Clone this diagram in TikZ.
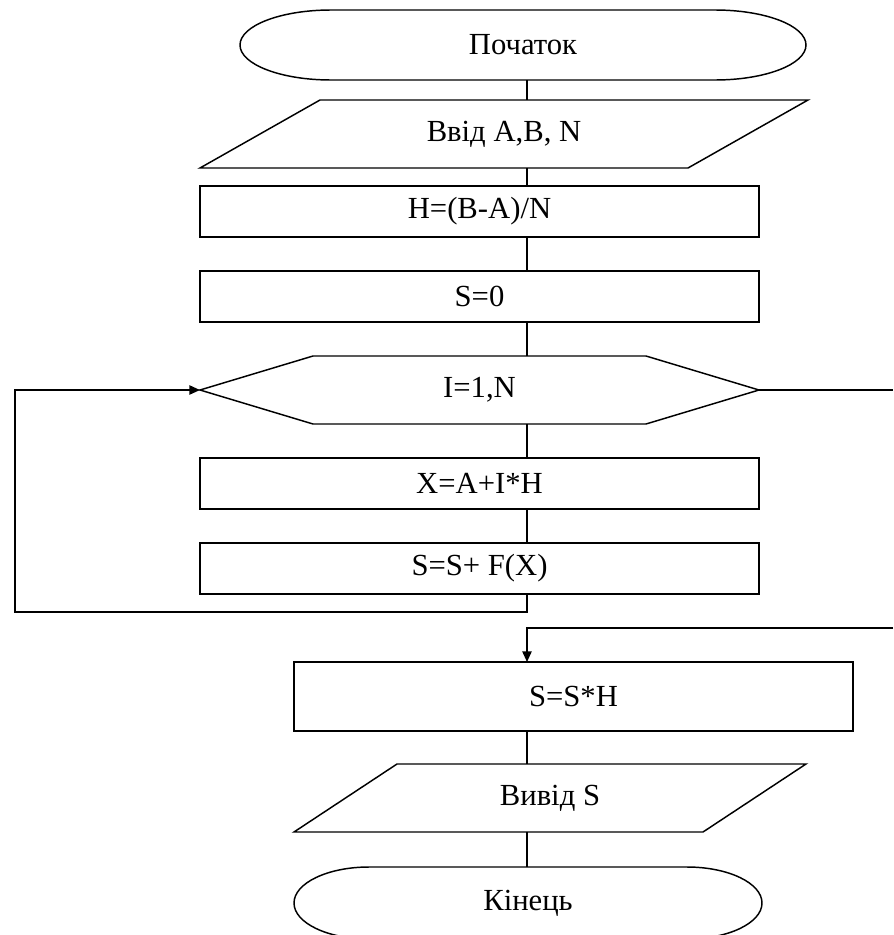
\documentclass[tikz,border=0pt]{standalone}
\usepackage{fontspec}
\setmainfont{Liberation Serif}
\usetikzlibrary{arrows.meta}

\begin{document}
\begin{tikzpicture}[x=0.75pt, y=-0.75pt, line width=1.1pt,
    every node/.style={font=\fontsize{23pt}{27pt}\selectfont, inner sep=0pt, outer sep=0pt},
    blk/.style={draw, minimum width=419.25pt, minimum height=38.25pt},
    arr/.style={-{Triangle[length=8pt, width=7pt]}}]
    \useasboundingbox (0,0) rectangle (893,935);
    \coordinate (axis) at (527,0);

    % Draw the start terminal
    \node[minimum width=424.5pt, minimum height=52.5pt] (start) at (523,45) {Початок};
    \draw ([xshift=68.25pt]start.north west) -- ([xshift=-68.25pt]start.north east)
        arc[start angle=90, end angle=-90, x radius=68.25pt, y radius=26.25pt]
        -- ([xshift=68.25pt]start.south west)
        arc[start angle=270, end angle=90, x radius=68.25pt, y radius=26.25pt] -- cycle;

    % Draw the input
    \node[minimum width=456pt, minimum height=51pt] (inp) at (504,134) {Ввід A,B, N};
    \draw ([xshift=90pt]inp.north west) -- (inp.north east)
        -- ([xshift=-90pt]inp.south east) -- (inp.south west) -- cycle;

    % Draw the boxes before the loop
    \node[blk] (h) at (479.5,211.5) {H=(B-A)/N};
    \node[blk] (s0) at (479.5,296.5) {S=0};

    % Draw the loop header
    \node[minimum width=419.25pt, minimum height=51pt] (loop) at (479.5,390) {I=1,N};
    \draw (loop.west) -- ([xshift=84.75pt]loop.north west) -- ([xshift=-84.75pt]loop.north east)
        -- (loop.east) -- ([xshift=-84.75pt]loop.south east) -- ([xshift=84.75pt]loop.south west) -- cycle;

    % Draw the loop body
    \node[blk] (xi) at (479.5,483.5) {X=A+I*H};
    \node[blk] (sf) at (479.5,568.5) {S=S+ F(X)};

    % Draw the boxes after the loop
    \node[blk, minimum height=51.75pt] (ssh) at (573.5,696.5) {S=S*H};
    \node[minimum width=384pt, minimum height=51pt] (outp) at (550,798) {Вивід S};
    \draw ([xshift=77.25pt]outp.north west) -- (outp.north east)
        -- ([xshift=-77.25pt]outp.south east) -- (outp.south west) -- cycle;

    % Draw the end terminal
    \node[minimum width=351pt, minimum height=54pt] (fin) at (528,903) {Кінець};
    \draw ([xshift=56.25pt]fin.north west) -- ([xshift=-56.25pt]fin.north east)
        arc[start angle=90, end angle=-90, x radius=56.25pt, y radius=27pt]
        -- ([xshift=56.25pt]fin.south west)
        arc[start angle=270, end angle=90, x radius=56.25pt, y radius=27pt] -- cycle;

    % Draw the wires between the blocks
    \draw (start.south -| axis) -- (inp.north -| axis);
    \draw (inp.south -| axis) -- (h.north -| axis);
    \draw (h.south -| axis) -- (s0.north -| axis);
    \draw (s0.south -| axis) -- (loop.north -| axis);
    \draw (loop.south -| axis) -- (xi.north -| axis);
    \draw (xi.south -| axis) -- (sf.north -| axis);
    \draw (ssh.south -| axis) -- (outp.north -| axis);
    \draw (outp.south -| axis) -- (fin.north -| axis);

    % Draw the way back to the loop header
    \coordinate (back) at (15,612);
    \draw[arr] (sf.south -| axis) |- (back) |- (loop.west);

    % Draw the way out of the loop
    \coordinate (exitr) at (893,390);
    \coordinate (retr) at (893,628);
    \draw (loop.east) -- (exitr);
    \draw[arr] (retr) -| (ssh.north -| axis);
\end{tikzpicture}
\end{document}
